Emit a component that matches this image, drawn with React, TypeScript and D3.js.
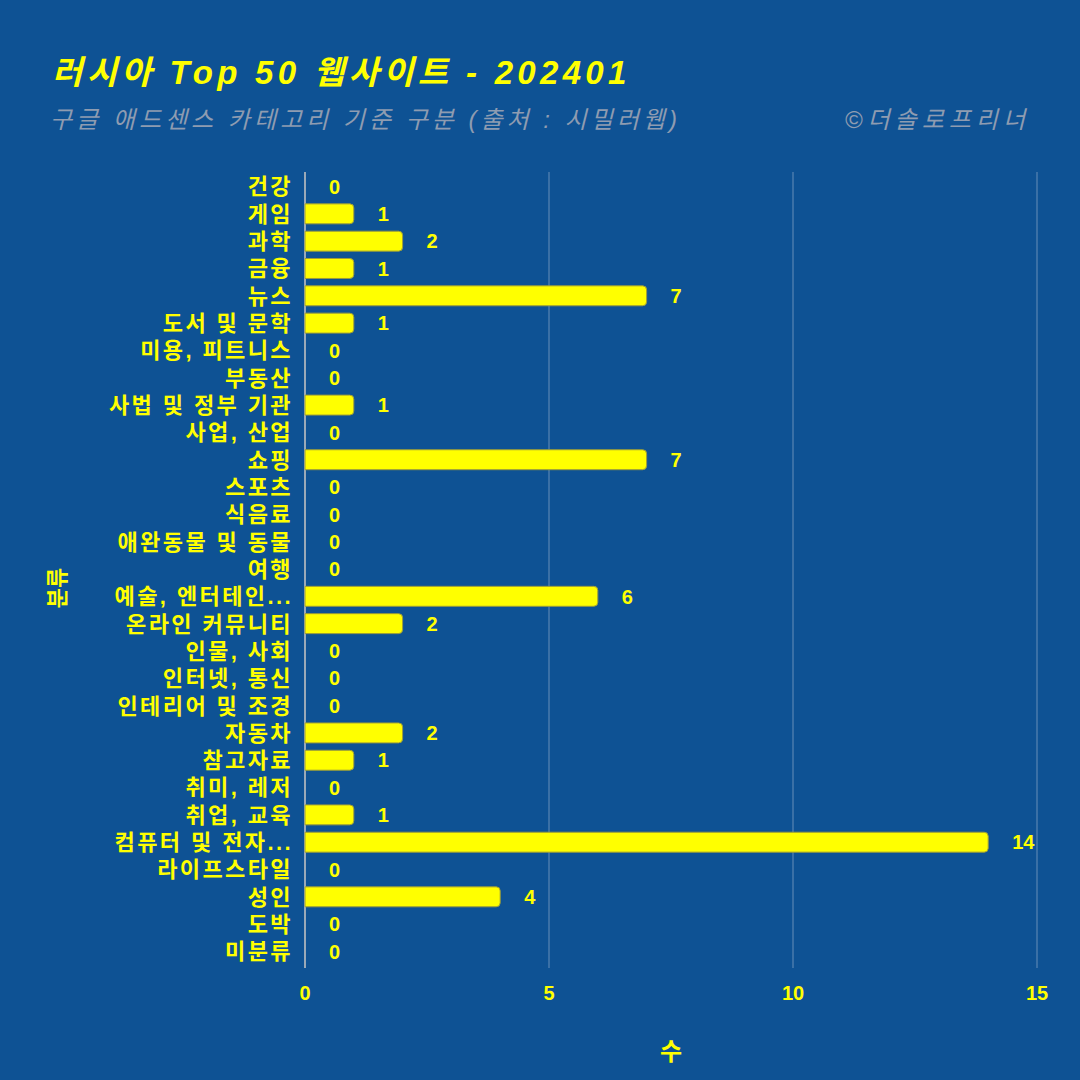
import React from "react";
import * as d3 from "d3";

const categories = [
  "건강", "게임", "과학", "금융", "뉴스", "도서 및 문학", "미용, 피트니스", "부동산",
  "사법 및 정부 기관", "사업, 산업", "쇼핑", "스포츠", "식음료", "애완동물 및 동물", "여행",
  "예술, 엔터테인...", "온라인 커뮤니티", "인물, 사회", "인터넷, 통신", "인테리어 및 조경",
  "자동차", "참고자료", "취미, 레저", "취업, 교육", "컴퓨터 및 전자...", "라이프스타일",
  "성인", "도박", "미분류",
];
const values = [0, 1, 2, 1, 7, 1, 0, 0, 1, 0, 7, 0, 0, 0, 0, 6, 2, 0, 0, 0, 2, 1, 0, 1, 14, 0, 4, 0, 0];
const xTicks = [0, 5, 10, 15];

const title = "러시아 Top 50 웹사이트 - 202401";
const subtitle = "구글 애드센스 카테고리 기준 구분 (출처 : 시밀러웹)";
const caption = "©더솔로프리너";
const xTitle = "수";
const yTitle = "분류";

const BG = "#0e5294";
const YEL = "#ffff00";
const GREY = "#8e9cb1";
const FONT = "'Liberation Sans', 'Noto Sans CJK KR', sans-serif";

export default function App() {
  const W = 1080, H = 1080;
  const x = d3.scaleLinear().domain([0, 15]).range([305, 1037]);
  const y = d3.scaleBand<string>().domain(categories).range([173, 965]).paddingInner(0.27).paddingOuter(0.13);
  const bw = y.bandwidth();
  return (
    <svg width={W} height={H} style={{ position: "absolute", left: 0, top: 0, display: "block" }}>
      <rect x={0} y={0} width={W} height={H} fill={BG} />
      <text x={52} y={84} fill={YEL} fontFamily={FONT} fontWeight="bold" fontStyle="italic" fontSize={33} letterSpacing={4.3}>{title}</text>
      <text x={50} y={128} fill={GREY} fontFamily={FONT} fontStyle="italic" fontSize={24} letterSpacing={4}>{subtitle}</text>
      <text x={1030} y={128} textAnchor="end" fill={GREY} fontFamily={FONT} fontStyle="italic" fontSize={24} letterSpacing={5}>{caption}</text>
      {xTicks.map((t) => (
        <line key={t} x1={x(t)} x2={x(t)} y1={172} y2={968} stroke={t === 0 ? "#9aa9b8" : "#3a70a6"} strokeWidth={2} />
      ))}
      {categories.map((c, i) => {
        const v = values[i];
        const yy = y(c)!;
        return (
          <g key={c}>
            {v > 0 && (
              <path
                d={`M${x(0)},${yy} H${x(v) - 4} Q${x(v)},${yy} ${x(v)},${yy + 4} V${yy + bw - 4} Q${x(v)},${yy + bw} ${x(v) - 4},${yy + bw} H${x(0)} Z`}
                fill={YEL}
                stroke="#9c9c3a"
                strokeWidth={1}
              />
            )}
            <text x={x(v) + 24} y={yy + bw / 2} dy="0.36em" fill={YEL} fontFamily={FONT} fontWeight="bold" fontSize={20}>{v}</text>
            <text x={293} y={yy + bw / 2} dy="0.36em" textAnchor="end" fill={YEL} fontFamily={FONT} fontWeight="bold" fontSize={22} letterSpacing={2.4}>{c}</text>
          </g>
        );
      })}
      {xTicks.map((t) => (
        <text key={"l" + t} x={x(t)} y={1000} textAnchor="middle" fill={YEL} fontFamily={FONT} fontWeight="bold" fontSize={20}>{t}</text>
      ))}
      <text x={671} y={1060} textAnchor="middle" fill={YEL} fontFamily={FONT} fontWeight="bold" fontSize={24}>{xTitle}</text>
      <text transform="translate(65,588) rotate(-90)" textAnchor="middle" fill={YEL} fontFamily={FONT} fontWeight="bold" fontSize={22}>{yTitle}</text>
    </svg>
  );
}
